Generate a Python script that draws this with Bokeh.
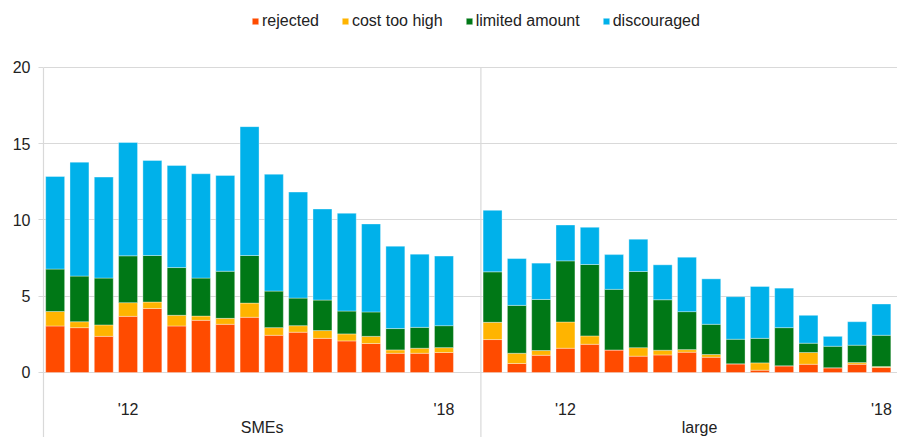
from bokeh.plotting import figure
from bokeh.models import ColumnDataSource, LinearAxis, FixedTicker, Range1d, SingleIntervalTicker
from bokeh.embed import file_html
from bokeh.resources import INLINE

# ---- data ----
groups = ["SMEs", "large"]
series = ["rejected", "cost too high", "limited amount", "discouraged"]
colors = ["#FF4B00", "#FFB400", "#007816", "#00B1EA"]

sme_rejected = [3.05, 2.94, 2.37, 3.68, 4.20, 3.05, 3.42, 3.16, 3.62, 2.44, 2.64, 2.24, 2.07, 1.90, 1.26, 1.26, 1.31]
sme_cost     = [0.95, 0.39, 0.75, 0.90, 0.42, 0.70, 0.28, 0.39, 0.93, 0.50, 0.43, 0.51, 0.46, 0.47, 0.22, 0.33, 0.32]
sme_limited  = [2.78, 2.99, 3.07, 3.07, 3.05, 3.13, 2.49, 3.09, 3.12, 2.40, 1.81, 2.00, 1.50, 1.60, 1.40, 1.37, 1.44]
sme_discour  = [6.07, 7.47, 6.62, 7.43, 6.23, 6.69, 6.84, 6.28, 8.45, 7.66, 6.95, 5.97, 6.41, 5.77, 5.40, 4.80, 4.56]

lrg_rejected = [2.16, 0.59, 1.13, 1.59, 1.85, 1.48, 1.07, 1.15, 1.33, 1.00, 0.57, 0.15, 0.44, 0.54, 0.31, 0.54, 0.33]
lrg_cost     = [1.13, 0.67, 0.31, 1.72, 0.55, 0.00, 0.56, 0.31, 0.17, 0.18, 0.00, 0.48, 0.00, 0.77, 0.00, 0.11, 0.06]
lrg_limited  = [3.31, 3.14, 3.35, 4.01, 4.68, 3.97, 4.99, 3.31, 2.49, 1.98, 1.61, 1.61, 2.50, 0.61, 1.41, 1.14, 2.05]
lrg_discour  = [4.03, 3.07, 2.38, 2.35, 2.44, 2.28, 2.12, 2.29, 3.57, 2.98, 2.79, 3.40, 2.59, 1.83, 0.65, 1.54, 2.05]

year_labels = ["'12", "'18"]
year_label_index = [3, 16]

# ---- layout constants ----
SLOTS = 18          # category slots per panel
X0 = -0.48          # panel left edge relative to first bar centre
PX_PER_SLOT = 24.3
FIG_W, FIG_H = 897, 437
LEFT = 43
FRAME_W = FIG_W - LEFT
Y_START, Y_END = -4.262, 24.39

panels = [
    [sme_rejected, sme_cost, sme_limited, sme_discour],
    [lrg_rejected, lrg_cost, lrg_limited, lrg_discour],
]

data = {"x": []}
for s in series:
    data[s] = []
for g, comps in enumerate(panels):
    n = len(comps[0])
    data["x"] += [g * SLOTS + k for k in range(n)]
    for s, vals in zip(series, comps):
        data[s] += vals
source = ColumnDataSource(data)

p = figure(width=FIG_W, height=FIG_H, output_backend="svg", toolbar_location=None,
           x_range=Range1d(X0, X0 + FRAME_W / PX_PER_SLOT),
           y_range=Range1d(Y_START, Y_END),
           x_axis_location=None,
           min_border_left=LEFT, min_border_right=0, min_border_top=0, min_border_bottom=0)
p.outline_line_color = None
p.xgrid.visible = False
p.ygrid.grid_line_color = "#d9d9d9"
p.ygrid.grid_line_width = 1.2
p.background_fill_color = "white"

# panel separator
sep = [g * SLOTS + X0 for g in range(1, len(groups))]
p.segment(x0=sep, y0=[Y_START] * len(sep), x1=sep, y1=[20] * len(sep),
          line_color="#d9d9d9", line_width=1.2)

p.vbar_stack(series, x="x", width=0.78, source=source, color=colors,
             line_color="white", line_alpha=0.35, line_width=1,
             legend_label=series)

# y axis
ya = p.yaxis[0]
ya.ticker = SingleIntervalTicker(interval=5)
ya.bounds = (Y_START, 20)
ya.axis_line_color = "#d9d9d9"
ya.axis_line_width = 1.2
ya.major_tick_line_color = "#d9d9d9"
ya.major_tick_out = 5
ya.major_tick_in = 0
ya.minor_tick_line_color = None
ya.major_label_standoff = 8
ya.major_label_text_font = "Liberation Sans"
ya.major_label_text_font_size = "16px"
ya.major_label_text_color = "#222222"

# year tick labels and group labels via axes fixed at y=0
year_ticks = [g * SLOTS + i for g in range(len(groups)) for i in year_label_index]
xa = LinearAxis(fixed_location=0, ticker=FixedTicker(ticks=year_ticks),
                major_label_overrides={t: year_labels[j % len(year_labels)] for j, t in enumerate(year_ticks)})
group_ticks = [g * SLOTS + X0 + SLOTS / 2 for g in range(len(groups))]
ga = LinearAxis(fixed_location=0, ticker=FixedTicker(ticks=group_ticks),
                major_label_overrides={t: groups[j] for j, t in enumerate(group_ticks)})
for ax, standoff in ((xa, 29), (ga, 47)):
    ax.axis_line_color = None
    ax.major_tick_line_color = None
    ax.minor_tick_line_color = None
    ax.major_tick_out = 0
    ax.major_label_standoff = standoff
    ax.major_label_text_font = "Liberation Sans"
    ax.major_label_text_font_size = "16px"
    ax.major_label_text_color = "#222222"
    p.add_layout(ax, "below")

lg = p.legend[0]
lg.orientation = "horizontal"
lg.location = (208, 406)
lg.padding = 0
lg.margin = 0
lg.border_line_color = None
lg.background_fill_alpha = 0
lg.glyph_width = 8
lg.glyph_height = 8
lg.label_standoff = 3
lg.spacing = 22
lg.label_height = 20
lg.label_text_font = "Liberation Sans"
lg.label_text_font_size = "16px"
lg.label_text_color = "#222222"

open("out.html", "w").write(file_html(p, INLINE))
